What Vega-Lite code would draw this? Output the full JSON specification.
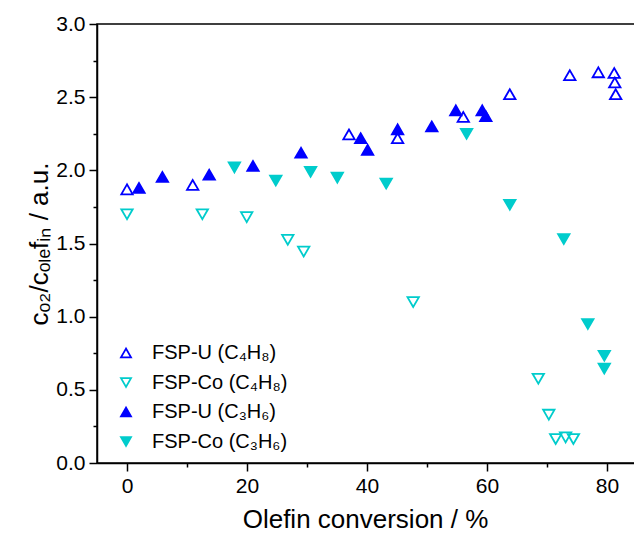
{
  "$schema": "https://vega.github.io/schema/vega-lite/v6.json",
  "width": 540,
  "height": 439,
  "autosize": {"type": "none"},
  "padding": {"left": 97, "top": 24, "right": 0, "bottom": 76},
  "config": {
    "view": {"stroke": "black", "strokeWidth": 1.5},
    "font": "Liberation Sans"
  },
  "data": {
    "values": [
      {"series": "FSP-U (C₄H₈)", "conversion": 0.0, "ratio": 1.87},
      {"series": "FSP-U (C₄H₈)", "conversion": 10.95, "ratio": 1.90},
      {"series": "FSP-U (C₄H₈)", "conversion": 37.0, "ratio": 2.245},
      {"series": "FSP-U (C₄H₈)", "conversion": 45.1, "ratio": 2.22},
      {"series": "FSP-U (C₄H₈)", "conversion": 56.05, "ratio": 2.365},
      {"series": "FSP-U (C₄H₈)", "conversion": 63.8, "ratio": 2.52},
      {"series": "FSP-U (C₄H₈)", "conversion": 73.8, "ratio": 2.65},
      {"series": "FSP-U (C₄H₈)", "conversion": 78.55, "ratio": 2.67},
      {"series": "FSP-U (C₄H₈)", "conversion": 81.2, "ratio": 2.665},
      {"series": "FSP-U (C₄H₈)", "conversion": 81.3, "ratio": 2.60},
      {"series": "FSP-U (C₄H₈)", "conversion": 81.45, "ratio": 2.52},
      {"series": "FSP-Co (C₄H₈)", "conversion": 0.0, "ratio": 1.70},
      {"series": "FSP-Co (C₄H₈)", "conversion": 12.55, "ratio": 1.70},
      {"series": "FSP-Co (C₄H₈)", "conversion": 19.95, "ratio": 1.68},
      {"series": "FSP-Co (C₄H₈)", "conversion": 26.8, "ratio": 1.525},
      {"series": "FSP-Co (C₄H₈)", "conversion": 29.45, "ratio": 1.445},
      {"series": "FSP-Co (C₄H₈)", "conversion": 47.7, "ratio": 1.10},
      {"series": "FSP-Co (C₄H₈)", "conversion": 68.55, "ratio": 0.576},
      {"series": "FSP-Co (C₄H₈)", "conversion": 70.3, "ratio": 0.33},
      {"series": "FSP-Co (C₄H₈)", "conversion": 71.45, "ratio": 0.164},
      {"series": "FSP-Co (C₄H₈)", "conversion": 73.1, "ratio": 0.175},
      {"series": "FSP-Co (C₄H₈)", "conversion": 74.4, "ratio": 0.164},
      {"series": "FSP-U (C₃H₆)", "conversion": 2.0, "ratio": 1.88},
      {"series": "FSP-U (C₃H₆)", "conversion": 5.9, "ratio": 1.955},
      {"series": "FSP-U (C₃H₆)", "conversion": 13.7, "ratio": 1.97},
      {"series": "FSP-U (C₃H₆)", "conversion": 21.0, "ratio": 2.03},
      {"series": "FSP-U (C₃H₆)", "conversion": 29.0, "ratio": 2.12},
      {"series": "FSP-U (C₃H₆)", "conversion": 38.95, "ratio": 2.22},
      {"series": "FSP-U (C₃H₆)", "conversion": 40.1, "ratio": 2.14},
      {"series": "FSP-U (C₃H₆)", "conversion": 45.1, "ratio": 2.28},
      {"series": "FSP-U (C₃H₆)", "conversion": 50.8, "ratio": 2.30},
      {"series": "FSP-U (C₃H₆)", "conversion": 54.8, "ratio": 2.41},
      {"series": "FSP-U (C₃H₆)", "conversion": 59.2, "ratio": 2.41},
      {"series": "FSP-U (C₃H₆)", "conversion": 59.8, "ratio": 2.37},
      {"series": "FSP-Co (C₃H₆)", "conversion": 17.9, "ratio": 2.02},
      {"series": "FSP-Co (C₃H₆)", "conversion": 24.8, "ratio": 1.93},
      {"series": "FSP-Co (C₃H₆)", "conversion": 30.6, "ratio": 1.99},
      {"series": "FSP-Co (C₃H₆)", "conversion": 35.05, "ratio": 1.95},
      {"series": "FSP-Co (C₃H₆)", "conversion": 43.2, "ratio": 1.91},
      {"series": "FSP-Co (C₃H₆)", "conversion": 56.6, "ratio": 2.25},
      {"series": "FSP-Co (C₃H₆)", "conversion": 63.8, "ratio": 1.765},
      {"series": "FSP-Co (C₃H₆)", "conversion": 72.8, "ratio": 1.53},
      {"series": "FSP-Co (C₃H₆)", "conversion": 76.8, "ratio": 0.95},
      {"series": "FSP-Co (C₃H₆)", "conversion": 79.55, "ratio": 0.733},
      {"series": "FSP-Co (C₃H₆)", "conversion": 79.55, "ratio": 0.645}
    ]
  },
  "mark": {"type": "point", "size": 130, "strokeWidth": 1.8, "opacity": 1, "clip": false},
  "encoding": {
    "x": {
      "field": "conversion",
      "type": "quantitative",
      "scale": {"domain": [-5, 85], "nice": false, "zero": false},
      "axis": {
        "values": [0, 10, 20, 30, 40, 50, 60, 70, 80],
        "labelExpr": "datum.value % 20 === 0 ? datum.label : ''",
        "tickSize": {"condition": {"test": "datum.value % 20 === 0", "value": 8}, "value": 4},
        "grid": false,
        "domainColor": "black",
        "domainWidth": 1.5,
        "tickColor": "black",
        "tickWidth": 1.5,
        "labelFontSize": 21,
        "labelColor": "black",
        "labelPadding": 4,
        "labelFlush": false,
        "labelOverlap": false,
        "title": "Olefin conversion / %",
        "titleFontSize": 26,
        "titleFontWeight": "normal",
        "titleColor": "black",
        "titlePadding": 10,
        "titleX": 268
      }
    },
    "y": {
      "field": "ratio",
      "type": "quantitative",
      "scale": {"domain": [0, 3], "nice": false, "zero": false},
      "axis": {
        "values": [0, 0.25, 0.5, 0.75, 1, 1.25, 1.5, 1.75, 2, 2.25, 2.5, 2.75, 3],
        "format": ".1f",
        "labelExpr": "abs(datum.value * 2 - round(datum.value * 2)) < 0.001 ? datum.label : ''",
        "tickSize": {"condition": {"test": "abs(datum.value * 2 - round(datum.value * 2)) < 0.001", "value": 8}, "value": 4},
        "grid": false,
        "domainColor": "black",
        "domainWidth": 1.5,
        "tickColor": "black",
        "tickWidth": 1.5,
        "labelFontSize": 21,
        "labelColor": "black",
        "labelPadding": 4,
        "labelFlush": false,
        "labelOverlap": false,
        "title": "cₒ₂/cₒₗₑfᵢₙ / a.u.",
        "titleFontSize": 26,
        "titleFontWeight": "normal",
        "titleColor": "black",
        "titlePadding": 3
      }
    },
    "shape": {
      "field": "series",
      "type": "nominal",
      "scale": {
        "domain": ["FSP-U (C₄H₈)", "FSP-Co (C₄H₈)", "FSP-U (C₃H₆)", "FSP-Co (C₃H₆)"],
        "range": ["triangle-up", "triangle-down", "triangle-up", "triangle-down"]
      },
      "legend": {
        "orient": "none",
        "legendX": 19,
        "legendY": 319,
        "title": null,
        "labelFontSize": 20,
        "labelColor": "black",
        "symbolSize": 100,
        "symbolStrokeWidth": 1.8,
        "rowPadding": 9.5,
        "labelOffset": 16,
        "padding": 0
      }
    },
    "stroke": {
      "field": "series",
      "type": "nominal",
      "scale": {
        "domain": ["FSP-U (C₄H₈)", "FSP-Co (C₄H₈)", "FSP-U (C₃H₆)", "FSP-Co (C₃H₆)"],
        "range": ["#0000FF", "#00CCCC", "#0000FF", "#00CCCC"]
      }
    },
    "fill": {
      "field": "series",
      "type": "nominal",
      "scale": {
        "domain": ["FSP-U (C₄H₈)", "FSP-Co (C₄H₈)", "FSP-U (C₃H₆)", "FSP-Co (C₃H₆)"],
        "range": ["transparent", "transparent", "#0000FF", "#00CCCC"]
      }
    }
  }
}
